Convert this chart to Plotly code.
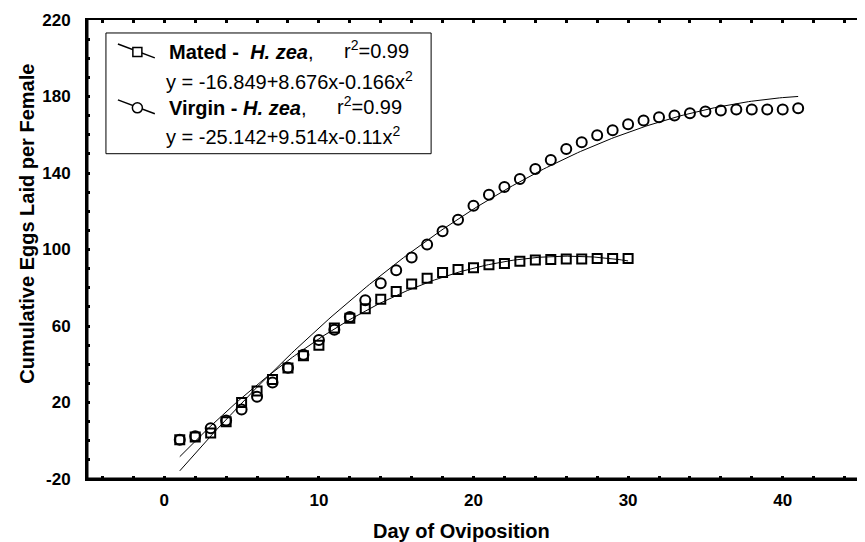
import numpy as np
import plotly.graph_objects as go

# ---------------- data ----------------
mated_days = list(range(1, 31))
mated_eggs = [0.5, 2, 4, 10, 20, 26, 32, 38, 44.5, 50,
              59, 64, 69, 74, 78, 82, 85, 88, 89.5, 90.5,
              92, 92.7, 93.8, 94.5, 94.8, 95, 95, 95.3, 95.3, 95.3]

virgin_days = list(range(1, 42))
virgin_eggs = [0.5, 2.3, 6.5, 10.6, 16.4, 23, 30.4, 38.2, 45, 52.7,
               58, 64.7, 73.5, 82.3, 89.1, 95.8, 102.6, 109.5, 115.6, 122.9,
               128.6, 132.7, 136.9, 142.1, 146.8, 152.5, 156.1, 159.7, 162.3, 165.5,
               167.5, 169.1, 170.1, 171.2, 172.2, 172.7, 173.2, 173.2, 173.2, 173.2,
               173.8]

# fitted quadratic coefficients (shown in legend)
mated_coef = [-16.849, 8.676, -0.166]
virgin_coef = [-25.142, 9.514, -0.11]

x_tick0, x_dtick = 0, 10
y_tickvals = [-20, 20, 60, 100, 140, 180, 220]
y_ticktext = ["-20", "20", "60", "100", "140", "180", "220"]

FONT = "Liberation Sans"

def quad(coef, xs):
    xs = np.asarray(xs, dtype=float)
    return coef[0] + coef[1] * xs + coef[2] * xs ** 2

mx = np.linspace(min(mated_days), max(mated_days), 200)
vx = np.linspace(min(virgin_days), max(virgin_days), 200)

fig = go.Figure()

# fit lines
fig.add_trace(go.Scatter(x=mx, y=quad(mated_coef, mx), mode="lines",
                         line=dict(color="black", width=1), showlegend=False, hoverinfo="skip"))
fig.add_trace(go.Scatter(x=vx, y=quad(virgin_coef, vx), mode="lines",
                         line=dict(color="black", width=1), showlegend=False, hoverinfo="skip"))

# observed points
fig.add_trace(go.Scatter(x=virgin_days, y=virgin_eggs, mode="markers",
                         marker=dict(symbol="circle-open", size=10, color="black",
                                     line=dict(width=2, color="black")),
                         showlegend=False))
fig.add_trace(go.Scatter(x=mated_days, y=mated_eggs, mode="markers",
                         marker=dict(symbol="square-open", size=9, color="black",
                                     line=dict(width=2, color="black")),
                         showlegend=False))

# ---------- legend (drawn on a page-pixel overlay axis) ----------
def leg_sym(y0, symbol, size):
    fig.add_trace(go.Scatter(x=[118, 155], y=[y0 - 8, y0 + 6], mode="lines",
                             line=dict(color="black", width=1.5),
                             xaxis="x2", yaxis="y2", showlegend=False, hoverinfo="skip"))
    fig.add_trace(go.Scatter(x=[137.5], y=[y0], mode="markers",
                             marker=dict(symbol=symbol, size=size, color="white",
                                         line=dict(width=1.5, color="black")),
                             xaxis="x2", yaxis="y2", showlegend=False, hoverinfo="skip"))

leg_sym(51, "square", 9)
leg_sym(107, "circle", 10)

ann = []
def txt(x, y, s, size=20):
    ann.append(dict(x=x, y=y, xref="x2", yref="y2", text=s, showarrow=False,
                    xanchor="left", yanchor="middle",
                    font=dict(family=FONT, size=size, color="black")))

txt(167, 51, "<b>Mated -  <i>H. zea</i></b>,")
txt(343, 49, "r<sup>2</sup>=0.99")
txt(164, 80, "y = -16.849+8.676x-0.166x<sup>2</sup>")
txt(167, 107, "<b>Virgin - <i>H. zea</i></b>,")
txt(336, 105, "r<sup>2</sup>=0.99")
txt(164, 135, "y = -25.142+9.514x-0.11x<sup>2</sup>")

# axis titles (paper coords; plot area = page px 87..862 x 19..479)
ann.append(dict(x=(462 - 87) / 775, y=-(531 - 479) / 460, xref="paper", yref="paper",
                text="<b>Day of Oviposition</b>", showarrow=False,
                xanchor="center", yanchor="middle",
                font=dict(family=FONT, size=20, color="black")))
ann.append(dict(x=(26 - 87) / 775, y=(479 - 223) / 460, xref="paper", yref="paper",
                text="<b>Cumulative Eggs Laid per Female</b>", showarrow=False,
                textangle=-90, xanchor="center", yanchor="middle",
                font=dict(family=FONT, size=20, color="black")))

# page body has an 8px margin: figure is 857x534 placed at (8, 8)
fig.update_layout(
    width=857, height=534,
    margin=dict(l=79, r=3, t=11, b=63),
    paper_bgcolor="white", plot_bgcolor="white",
    showlegend=False,
    xaxis=dict(range=[-5, 45], tickmode="linear", tick0=x_tick0, dtick=x_dtick,
               ticks="inside", ticklen=3, tickwidth=2.5,
               tickcolor="black", showline=True, linecolor="black", linewidth=2,
               mirror="ticks", showgrid=False, zeroline=False,
               minor=dict(dtick=2, tick0=0, ticks="inside", ticklen=3, tickwidth=2.5,
                          tickcolor="black", showgrid=False),
               tickfont=dict(family=FONT, size=17, color="black", weight="bold"),
               ticklabelstandoff=5),
    yaxis=dict(range=[-20, 220], tickmode="array", tickvals=y_tickvals, ticktext=y_ticktext,
               ticks="inside", ticklen=3, tickwidth=2.5,
               tickcolor="black", showline=True, linecolor="black", linewidth=2,
               mirror="ticks", showgrid=False, zeroline=False,
               minor=dict(dtick=10, tick0=0, ticks="inside", ticklen=3, tickwidth=2.5,
                          tickcolor="black", showgrid=False),
               tickfont=dict(family=FONT, size=17, color="black", weight="bold"),
               ticklabelstandoff=11),
    xaxis2=dict(range=[87, 862], overlaying="x", visible=False, anchor="y2"),
    yaxis2=dict(range=[479, 19], overlaying="y", visible=False, anchor="x2"),
    annotations=ann,
    shapes=[
        dict(type="rect", xref="x2", yref="y2", x0=106, x1=432, y0=32, y1=153,
             line=dict(color="black", width=1), fillcolor="rgba(0,0,0,0)", layer="below"),
        dict(type="line", xref="paper", yref="paper", x0=0, x1=0, y0=0, y1=1,
             line=dict(color="black", width=3)),
        dict(type="line", xref="paper", yref="paper", x0=0, x1=1, y0=0, y1=0,
             line=dict(color="black", width=3)),
    ],
)

fig.write_html("out.html")
